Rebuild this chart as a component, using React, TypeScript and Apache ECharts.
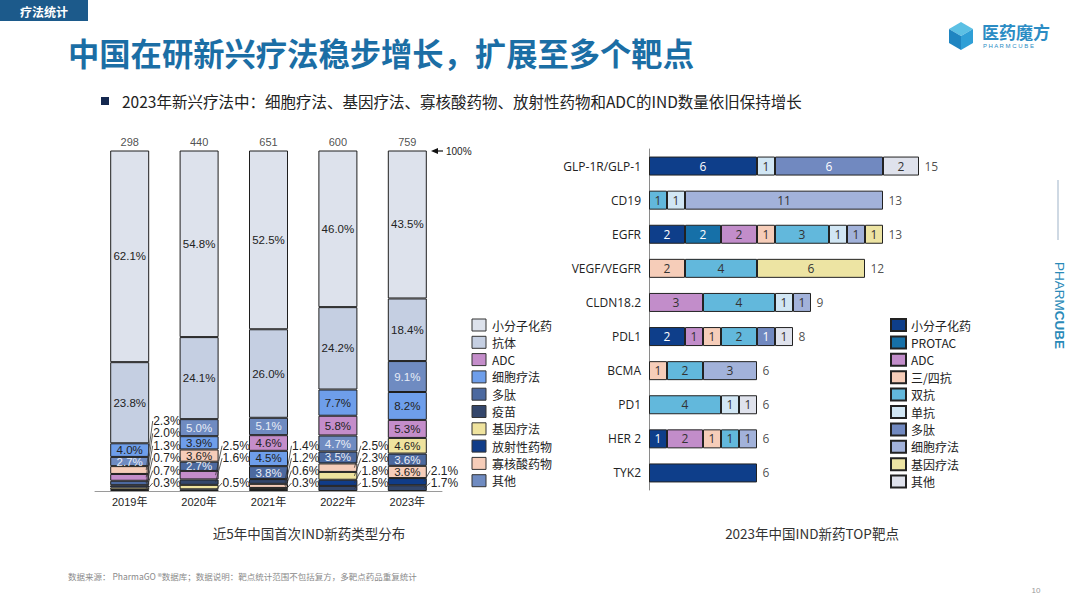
import React, { useEffect, useRef } from 'react';
import * as echarts from 'echarts';

// ---------- Left chart data (percent shares, 100% stacked) ----------
const years = ['2019年', '2020年', '2021年', '2022年', '2023年'];
const yearTotals = [298, 440, 651, 600, 759];
const leftCats = ['小分子化药', '抗体', 'ADC', '细胞疗法', '多肽', '疫苗', '基因疗法', '放射性药物', '寡核酸药物', '其他'];
const smallMolecule = [62.1, 54.8, 52.5, 46.0, 43.5];
const antibody = [23.8, 24.1, 26.0, 24.2, 18.4];
const adc = [2.0, 2.5, 4.6, 5.8, 5.3];
const cellTherapy = [4.0, 3.9, 4.5, 7.7, 8.2];
const peptide = [1.3, 2.7, 3.8, 3.5, 3.6];
const vaccine = [0.7, 1.6, 1.4, 1.5, 1.7];
const geneTherapy = [0.7, 1.3, 0.6, 2.3, 4.6];
const radioDrug = [0.3, 0.5, 0.3, 1.8, 2.1];
const oligo = [2.3, 3.6, 1.2, 2.5, 3.6];
const otherLeft = [2.7, 5.0, 5.1, 4.7, 9.1];
const hiddenOutsideLabels = ['2020年|基因疗法'];

// ---------- Right chart data (counts per target) ----------
const targets = ['GLP-1R/GLP-1', 'CD19', 'EGFR', 'VEGF/VEGFR', 'CLDN18.2', 'PDL1', 'BCMA', 'PD1', 'HER 2', 'TYK2'];
const rightCats = ['小分子化药', 'PROTAC', 'ADC', '三/四抗', '双抗', '单抗', '多肽', '细胞疗法', '基因疗法', '其他'];
const rSmall = [6, 0, 2, 0, 0, 2, 0, 0, 1, 6];
const rProtac = [0, 0, 2, 0, 0, 0, 0, 0, 0, 0];
const rAdc = [0, 0, 2, 0, 3, 1, 0, 0, 2, 0];
const rTriTetra = [0, 0, 1, 2, 0, 1, 1, 0, 1, 0];
const rBispecific = [0, 1, 3, 4, 4, 2, 2, 4, 1, 0];
const rMono = [1, 1, 1, 0, 1, 0, 0, 1, 0, 0];
const rPeptide = [6, 0, 0, 0, 0, 1, 0, 0, 0, 0];
const rCell = [0, 11, 1, 0, 1, 0, 3, 0, 1, 0];
const rGene = [0, 0, 1, 6, 0, 0, 0, 0, 0, 0];
const rOther = [2, 0, 0, 0, 0, 1, 0, 1, 0, 0];
const hiddenInsideLabels = ['TYK2|小分子化药'];

// ---------- Styles ----------
const leftColors = ['#dde2ec', '#c5cfe2', '#c48dca', '#6e9eea', '#4c699f', '#33466b', '#efe39e', '#103c88', '#f6cdb9', '#6f8bc1'];
const leftLightText = ['多肽', '疫苗', '放射性药物', '其他'];
const rightColors = ['#0e3e8a', '#1670a8', '#c28dca', '#f6cdb9', '#62b8dc', '#d1e6f4', '#7189c0', '#a2b2da', '#ede4a3', '#dfe2ec'];
const rightLightText = ['小分子化药', 'PROTAC', '多肽'];

const FONT_L = "'Liberation Sans', Arial, 'Noto Sans CJK SC', sans-serif";
const FONT_R = "'Open Sans', 'Noto Sans CJK SC', sans-serif";
const FONT_CJK = "'Noto Sans CJK SC', 'Noto Sans', sans-serif";

function buildOption() {
  const leftVals = [smallMolecule, antibody, adc, cellTherapy, peptide, vaccine, geneTherapy, radioDrug, oligo, otherLeft];
  const perYear = years.map((_, yi) => {
    const entries = leftCats
      .map((c, ci) => ({ ci, v: leftVals[ci][yi], norm: 0, start: 0 }))
      .filter((e) => e.v > 0);
    entries.sort((a, b) => b.v - a.v || a.ci - b.ci);
    const sum = entries.reduce((s, e) => s + e.v, 0);
    const asc = entries.slice().reverse();
    let cum = 0;
    asc.forEach((e) => {
      e.norm = (e.v / sum) * 100;
      e.start = cum;
      cum += e.norm;
    });
    return asc;
  });
  const maxSlots = Math.max(...perYear.map((p) => p.length));

  const slotSeries: any[] = [];
  for (let k = 0; k < maxSlots; k++) {
    slotSeries.push({
      type: 'bar',
      name: 'slot' + k,
      stack: 'left',
      xAxisIndex: 0,
      yAxisIndex: 0,
      barWidth: 39,
      data: years.map((_, yi) => {
        const e = perYear[yi][k];
        if (!e) return '-';
        return {
          value: e.norm,
          itemStyle: { color: leftColors[e.ci], borderColor: '#1e1e1e', borderWidth: 1 },
          label: {
            show: e.v >= 2.6,
            position: 'inside',
            formatter: e.v.toFixed(1) + '%',
            color: leftLightText.includes(leftCats[e.ci]) ? '#e8edf7' : '#222',
            fontSize: 11.5,
            lineHeight: 11,
            fontFamily: FONT_L,
          },
        };
      }),
    });
  }

  const outsideData: any[] = [];
  const outsideText: string[] = [];
  perYear.forEach((asc, yi) => {
    asc.forEach((e, k) => {
      if (e.v < 2.6 && !hiddenOutsideLabels.includes(years[yi] + '|' + leftCats[e.ci])) {
        outsideData.push([yi, e.start + e.norm / 2, k]);
        outsideText.push(e.v.toFixed(1) + '%');
      }
    });
  });

  const rightVals = [rSmall, rProtac, rAdc, rTriTetra, rBispecific, rMono, rPeptide, rCell, rGene, rOther];
  const rightTotals = targets.map((_, ti) => rightVals.reduce((s, arr) => s + arr[ti], 0));
  const rightSeries = rightVals.map((arr, ci) => ({
    type: 'bar',
    name: rightCats[ci],
    stack: 'right',
    xAxisIndex: 1,
    yAxisIndex: 1,
    barWidth: 19,
    itemStyle: { color: rightColors[ci], borderColor: '#222', borderWidth: 1 },
    label: {
      show: true,
      position: 'inside',
      color: rightLightText.includes(rightCats[ci]) ? '#ffffff' : '#333',
      fontSize: 12,
      fontFamily: FONT_R,
    },
    data: arr.map((v, ti) => {
      if (!(v > 0)) return '-';
      if (hiddenInsideLabels.includes(targets[ti] + '|' + rightCats[ci])) return { value: v, label: { show: false } };
      return v;
    }),
  }));

  const leftLegend: any[] = [];
  leftCats.forEach((c, i) => {
    const cy = 325 + 17.3 * i;
    leftLegend.push({
      type: 'rect',
      shape: { x: 472, y: cy - 6, width: 14, height: 12 },
      style: { fill: leftColors[i], stroke: '#333', lineWidth: 1 },
    });
    leftLegend.push({
      type: 'text',
      x: 492,
      y: cy,
      style: { text: c, fontSize: 12, fontFamily: FONT_CJK, fill: '#222', verticalAlign: 'middle' },
    });
  });

  return {
    animation: false,
    backgroundColor: '#ffffff',
    grid: [
      { left: 95, top: 150.5, width: 347, height: 340.5 },
      { left: 649, top: 149, width: 270, height: 341 },
    ],
    xAxis: [
      {
        type: 'category',
        gridIndex: 0,
        data: years,
        axisLine: { lineStyle: { color: '#9a9a9a', width: 1 } },
        axisTick: { show: false },
        axisLabel: { fontSize: 11, color: '#222', margin: 5, fontFamily: FONT_L },
      },
      { type: 'value', gridIndex: 1, min: 0, max: 15, show: false },
    ],
    yAxis: [
      { type: 'value', gridIndex: 0, min: 0, max: 100, show: false },
      {
        type: 'category',
        gridIndex: 1,
        data: targets,
        inverse: true,
        axisLine: { show: true, lineStyle: { color: '#8a8a8a', width: 1 } },
        axisTick: { show: false },
        axisLabel: { fontSize: 12, color: '#222', margin: 8, fontFamily: FONT_R },
      },
    ],
    legend: {
      data: rightCats,
      orient: 'vertical',
      left: 890,
      top: 318,
      icon: 'rect',
      itemWidth: 15,
      itemHeight: 12,
      itemGap: 3.4,
      padding: 0,
      selectedMode: false,
      textStyle: { fontSize: 12, lineHeight: 12, color: '#222', fontFamily: FONT_CJK },
    },
    series: [
      ...slotSeries,
      {
        type: 'custom',
        name: 'outsideLabels',
        xAxisIndex: 0,
        yAxisIndex: 0,
        encode: { x: 0, y: 1 },
        data: outsideData,
        z: 5,
        renderItem: (params: any, api: any) => {
          const xi = api.value(0);
          const mid = api.value(1);
          const slot = api.value(2);
          const p = api.coord([xi, mid]);
          const base = api.coord([xi, 0]);
          const half = 19.5;
          const ly = base[1] - 8 - slot * 12.4;
          const lx = p[0] + half + 4;
          return {
            type: 'group',
            children: [
              {
                type: 'line',
                shape: { x1: p[0] + half - 3, y1: p[1], x2: lx - 0.5, y2: ly },
                style: { stroke: '#333', lineWidth: 0.8 },
              },
              {
                type: 'text',
                x: lx,
                y: ly,
                style: {
                  text: outsideText[params.dataIndex],
                  fill: '#222',
                  fontSize: 12,
                  lineHeight: 12,
                  fontFamily: FONT_L,
                  verticalAlign: 'middle',
                  align: 'left',
                },
              },
            ],
          };
        },
      },
      {
        type: 'scatter',
        name: 'yearTotals',
        xAxisIndex: 0,
        yAxisIndex: 0,
        symbolSize: 1,
        itemStyle: { color: 'rgba(0,0,0,0)' },
        data: years.map((y, i) => [y, 100, yearTotals[i]]),
        label: {
          show: true,
          position: 'top',
          distance: 3,
          formatter: (p: any) => String(p.value[2]),
          fontSize: 11,
          color: '#222',
          fontFamily: FONT_L,
        },
      },
      ...rightSeries,
      {
        type: 'scatter',
        name: 'targetTotals',
        xAxisIndex: 1,
        yAxisIndex: 1,
        symbolSize: 1,
        itemStyle: { color: 'rgba(0,0,0,0)' },
        data: targets.map((t, i) => [rightTotals[i], t]),
        label: {
          show: true,
          position: 'right',
          distance: 5,
          formatter: (p: any) => String(p.value[0]),
          fontSize: 12,
          color: '#222',
          fontFamily: FONT_R,
        },
      },
    ],
    graphic: [
      // header tag
      { type: 'rect', shape: { x: 0, y: 0, width: 88, height: 21 }, style: { fill: '#1c5a8b' } },
      {
        type: 'text',
        x: 44,
        y: 11,
        style: { text: '疗法统计', fill: '#ffffff', fontSize: 12, fontWeight: 'bold', fontFamily: FONT_CJK, align: 'center', verticalAlign: 'middle' },
      },
      // title
      {
        type: 'text',
        x: 68,
        y: 52,
        style: {
          text: '中国在研新兴疗法稳步增长，扩展至多个靶点',
          fill: '#1b6ea5',
          fontSize: 31.3,
          fontWeight: 'bold',
          fontFamily: FONT_CJK,
          verticalAlign: 'middle',
        },
      },
      // subtitle bullet
      { type: 'rect', shape: { x: 101, y: 97, width: 8, height: 8 }, style: { fill: '#14284f' } },
      {
        type: 'text',
        x: 122,
        y: 101,
        style: {
          text: '2023年新兴疗法中：细胞疗法、基因疗法、寡核酸药物、放射性药物和ADC的IND数量依旧保持增长',
          fill: '#222',
          fontSize: 15.5,
          fontFamily: FONT_CJK,
          verticalAlign: 'middle',
        },
      },
      // logo cube
      { type: 'polygon', shape: { points: [[961, 22], [973, 29], [961, 36], [949, 29]] }, style: { fill: '#5cc0e4' } },
      { type: 'polygon', shape: { points: [[949, 29], [961, 36], [961, 50], [949, 43]] }, style: { fill: '#1f85c1' } },
      { type: 'polygon', shape: { points: [[961, 36], [973, 29], [973, 43], [961, 50]] }, style: { fill: '#2f9fd6' } },
      {
        type: 'text',
        x: 982,
        y: 31,
        style: { text: '医药魔方', fill: '#2b8cc4', fontSize: 17, lineHeight: 18, fontWeight: 'bold', fontFamily: FONT_CJK, verticalAlign: 'middle' },
      },
      {
        type: 'text',
        x: 983,
        y: 46,
        style: { text: 'P H A R M C U B E', fill: '#2b8cc4', fontSize: 6, lineHeight: 6, fontFamily: FONT_L, verticalAlign: 'middle' },
      },
      // side brand
      { type: 'line', shape: { x1: 1058, y1: 180, x2: 1058, y2: 240 }, style: { stroke: '#9fb3c8', lineWidth: 1 } },
      {
        type: 'text',
        x: 1059,
        y: 262,
        rotation: -Math.PI / 2,
        style: {
          text: '{a|PHARM}{b|CUBE}',
          rich: {
            a: { fontSize: 13.5, fill: '#2a8ab8', fontFamily: FONT_L },
            b: { fontSize: 13.5, fill: '#2a8ab8', fontWeight: 'bold', fontFamily: FONT_L },
          },
          verticalAlign: 'middle',
        },
      },
      // 100% arrow
      { type: 'line', shape: { x1: 437, y1: 151, x2: 443, y2: 151 }, style: { stroke: '#111', lineWidth: 1.2 } },
      { type: 'polygon', shape: { points: [[431, 151], [438, 148], [438, 154]] }, style: { fill: '#111' } },
      {
        type: 'text',
        x: 446,
        y: 151,
        style: { text: '100%', fill: '#222', fontSize: 10, fontFamily: FONT_L, verticalAlign: 'middle' },
      },
      ...leftLegend,
      // chart titles
      {
        type: 'text',
        x: 309,
        y: 533,
        style: { text: '近5年中国首次IND新药类型分布', fill: '#333', fontSize: 13.5, fontFamily: FONT_CJK, align: 'center', verticalAlign: 'middle' },
      },
      {
        type: 'text',
        x: 812,
        y: 533,
        style: { text: '2023年中国IND新药TOP靶点', fill: '#333', fontSize: 13.5, fontFamily: FONT_CJK, align: 'center', verticalAlign: 'middle' },
      },
      // footer
      {
        type: 'text',
        x: 68,
        y: 576,
        style: {
          text: '数据来源： PharmaGO ®数据库；数据说明：靶点统计范围不包括复方，多靶点药品重复统计',
          fill: '#8a8a8a',
          fontSize: 8.5,
          fontFamily: FONT_CJK,
          verticalAlign: 'middle',
        },
      },
      {
        type: 'text',
        x: 1036,
        y: 590,
        style: { text: '10', fill: '#999', fontSize: 8, fontFamily: FONT_L, align: 'center', verticalAlign: 'middle' },
      },
    ],
  };
}

export default function App() {
  const ref = useRef<HTMLDivElement>(null);
  useEffect(() => {
    if (!ref.current) return;
    const chart = echarts.init(ref.current, null, { renderer: 'svg' });
    chart.setOption(buildOption() as any);
    return () => {
      chart.dispose();
    };
  }, []);
  return (
    <div
      ref={ref}
      style={{ position: 'fixed', left: 0, top: 0, width: 1080, height: 607, background: '#ffffff' }}
    />
  );
}
